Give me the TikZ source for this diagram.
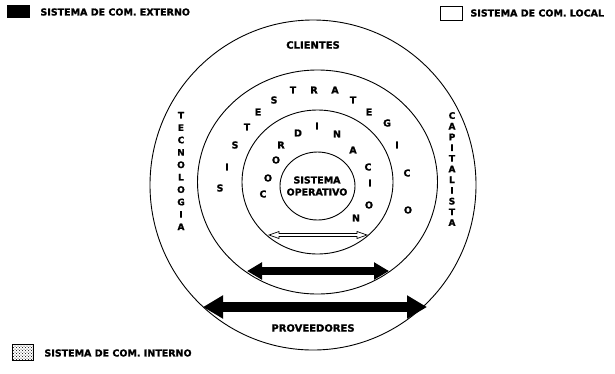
\documentclass[tikz,border=0pt]{standalone}
\usepackage{fontspec}
\setmainfont{DejaVu Sans}
\newfontfamily\gruesa{DejaVu Sans}[BoldFeatures={FakeBold=1.2}]
\usetikzlibrary{arrows.meta,patterns}

\tikzset{
  letra/.style={font=\gruesa\bfseries\fontsize{9.5}{9.5}\selectfont, inner sep=0pt},
  titulo/.style={font=\gruesa\bfseries\fontsize{10}{10}\selectfont, inner sep=0pt},
  leyenda/.style={font=\gruesa\bfseries\fontsize{9.5}{9.5}\selectfont, inner sep=0pt, anchor=west},
  vertical/.style={letra, align=center},
  flechanegra/.style={line width=#1, {Triangle[length=2*#1,width=2.2*#1]}-{Triangle[length=2*#1,width=2.2*#1]}}
}

\begin{document}
\begin{tikzpicture}[x=1pt, y=-1pt, line width=0.9pt]
  \useasboundingbox (0,0) rectangle (615,373);

  % Leyenda
  \fill[black] (7,5) rectangle (30,18);
  \node[leyenda] (externo) at (40,12) {SISTEMA DE COM. EXTERNO};
  \draw[line width=0.7pt] (440,6) rectangle (462,20);
  \node[leyenda] (local) at (470,13) {SISTEMA DE COM. LOCAL};
  \draw[line width=0.5pt, pattern=crosshatch dots] (12,344) rectangle (33,360);
  \node[leyenda] (interno) at (44,353) {SISTEMA DE COM. INTERNO};

  % Circulos
  \coordinate (centro) at (317.5,182);
  \draw (313,185) ellipse [x radius=163, y radius=165];
  \draw (centro) ellipse [x radius=120, y radius=112];
  \draw (centro) ellipse [x radius=75.5, y radius=72];
  \draw (317.5,186) ellipse [x radius=37.5, y radius=34];

  \node[titulo] (clientes) at (313,45) {CLIENTES};
  \node[titulo] (proveedores) at (313,328) {PROVEEDORES};
  \node[vertical, font=\gruesa\bfseries\fontsize{9}{12.4}\selectfont] (tecnologia) at (181,171)
       {T\\E\\C\\N\\O\\L\\O\\G\\I\\A};
  \node[vertical, font=\gruesa\bfseries\fontsize{9}{10.7}\selectfont] (capitalista) at (452,169)
       {C\\A\\P\\I\\T\\A\\L\\I\\S\\T\\A};

  % Nivel estrategico
  \foreach \l/\x/\y [count=\i] in {S/220/188, I/227/167, S/235/145, T/247/127, E/258/112,
      S/274/100, T/293/90, R/314/90, A/335/90, T/353/100, E/369/112, G/387/123,
      I/397/145, C/407/173, O/408/210}
    \node[letra] (est\i) at (\x,\y) {\l};

  % Nivel de coordinacion
  \foreach \l/\x/\y [count=\i] in {C/263/194, O/268/178, O/276/160, R/281/145,
      D/298/133, I/317/126, N/337/134, A/353/150, C/368/167, I/370/183,
      O/369/205, N/356/218}
    \node[letra] (coo\i) at (\x,\y) {\l};

  \node[titulo, align=center, font=\gruesa\bfseries\fontsize{9.5}{12}\selectfont] (operativo) at (317,186)
       {SISTEMA\\OPERATIVO};

  % Flechas
  \coordinate (ext1) at (203,307);
  \coordinate (ext2) at (427,307);
  \draw[flechanegra=10pt] (ext1) -- (ext2);
  \coordinate (med1) at (247,271);
  \coordinate (med2) at (389,271);
  \draw[flechanegra=7.5pt] (med1) -- (med2);
  \coordinate (int1) at (269,235);
  \coordinate (int2) at (367,235);
  \draw[line width=0.7pt, fill=white] (int1) -- ++(10,-3.5) -- ++(0,2) -- ++(78,0) -- ++(0,-2)
       -- (int2) -- ++(-10,3.5) -- ++(0,-2) -- ++(-78,0) -- ++(0,2) -- cycle;
\end{tikzpicture}
\end{document}
